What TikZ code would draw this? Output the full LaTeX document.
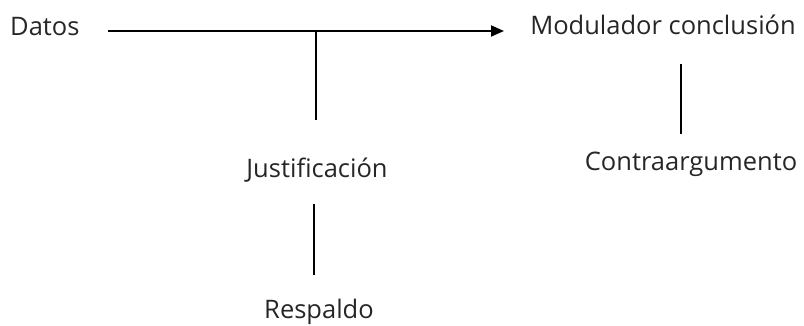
\documentclass[tikz,border=0pt]{standalone}
\usepackage{fontspec}
\setmainfont{Open Sans}
\usetikzlibrary{arrows.meta}
\begin{document}
\begin{tikzpicture}[x=1pt,y=-1pt,
  lbl/.style={inner sep=0pt,font=\fontsize{25.5}{30}\selectfont,text=black!85},
  conn/.style={line width=1.8pt,black}]
\useasboundingbox (0,0) rectangle (804,326);
\node[lbl,anchor=west] (datos) at (10,27) {Datos};
\node[lbl] (mod) at (663,25) {Modulador conclusión};
\node[lbl] (contra) at (691,164) {Contraargumento};
\node[lbl] (just) at (317,170) {Justificación};
\node[lbl] (resp) at (319,312) {Respaldo};
\coordinate (a0) at (108,31);
\coordinate (a1) at (504,31);
\coordinate (jn) at (316,31);
\coordinate (j1) at (316,120);
\coordinate (r0) at (314,204);
\coordinate (r1) at (314,275);
\coordinate (c0) at (681,64);
\coordinate (c1) at (681,134);
\draw[conn,-{Triangle[length=13pt,width=11pt]}] (a0) -- (a1);
\draw[conn] (jn) -- (j1);
\draw[conn] (r0) -- (r1);
\draw[conn] (c0) -- (c1);
\end{tikzpicture}
\end{document}
